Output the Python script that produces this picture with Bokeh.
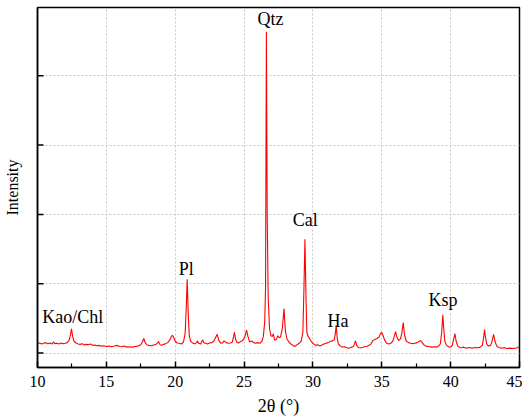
from bokeh.plotting import figure
from bokeh.models import FixedTicker, Label, Range1d
from bokeh.embed import file_html
from bokeh.resources import INLINE

# ---- data ----
two_theta = [
    10.00, 10.15, 10.30, 10.45, 10.60, 10.75, 10.90, 11.05, 11.15, 11.25, 11.40, 11.55, 11.70, 11.85,
    12.00, 12.15, 12.30, 12.40, 12.47, 12.55, 12.65, 12.80, 12.95, 13.10, 13.25, 13.40, 13.55, 13.70,
    13.85, 14.00, 14.15, 14.30, 14.45, 14.60, 14.80, 15.00, 15.20, 15.40, 15.60, 15.80, 15.95, 16.10,
    16.30, 16.50, 16.70, 16.90, 17.10, 17.30, 17.50, 17.62, 17.72, 17.82, 17.95, 18.10, 18.30, 18.50,
    18.65, 18.78, 18.88, 19.00, 19.15, 19.30, 19.45, 19.60, 19.72, 19.80, 19.90, 20.00, 20.15, 20.30,
    20.45, 20.60, 20.72, 20.80, 20.87, 20.94, 21.02, 21.12, 21.25, 21.40, 21.55, 21.62, 21.70, 21.85,
    21.98, 22.08, 22.20, 22.35, 22.50, 22.65, 22.80, 22.95, 23.05, 23.15, 23.30, 23.45, 23.55, 23.70,
    23.85, 24.00, 24.15, 24.24, 24.30, 24.36, 24.45, 24.60, 24.75, 24.90, 25.05, 25.18, 25.28, 25.40,
    25.55, 25.70, 25.85, 26.00, 26.15, 26.30, 26.40, 26.50, 26.56, 26.62, 26.68, 26.75, 26.85, 26.95,
    27.05, 27.12, 27.22, 27.35, 27.45, 27.55, 27.65, 27.78, 27.90, 28.00, 28.10, 28.25, 28.40, 28.55,
    28.70, 28.85, 29.00, 29.15, 29.27, 29.35, 29.42, 29.50, 29.56, 29.65, 29.75, 29.90, 30.05, 30.20,
    30.35, 30.50, 30.65, 30.80, 30.95, 31.10, 31.25, 31.40, 31.55, 31.62, 31.69, 31.76, 31.85, 32.00,
    32.15, 32.30, 32.45, 32.60, 32.75, 32.90, 33.00, 33.09, 33.18, 33.30, 33.45, 33.60, 33.75, 33.90,
    34.05, 34.20, 34.35, 34.50, 34.65, 34.80, 34.90, 34.98, 35.08, 35.20, 35.35, 35.50, 35.65, 35.80,
    35.92, 36.00, 36.10, 36.22, 36.35, 36.45, 36.56, 36.65, 36.78, 36.95, 37.10, 37.25, 37.40, 37.55,
    37.70, 37.81, 37.90, 38.05, 38.20, 38.35, 38.50, 38.65, 38.80, 38.95, 39.10, 39.25, 39.35, 39.43,
    39.50, 39.58, 39.70, 39.85, 40.00, 40.12, 40.22, 40.31, 40.40, 40.52, 40.65, 40.80, 40.95, 41.10,
    41.25, 41.40, 41.55, 41.70, 41.85, 42.00, 42.15, 42.30, 42.40, 42.46, 42.53, 42.62, 42.75, 42.90,
    43.00, 43.12, 43.22, 43.35, 43.50, 43.70, 43.90, 44.10, 44.30, 44.50, 44.70, 44.85, 45.00,
]
intensity = [
    135, 145, 130, 140, 150, 135, 145, 130, 160, 135, 140, 130, 145, 135,
    140, 150, 185, 270, 350, 240, 170, 145, 130, 125, 135, 115, 125, 120,
    130, 110, 115, 105, 110, 100, 105, 95, 100, 90, 100, 110, 95, 90,
    100, 85, 90, 85, 95, 100, 120, 160, 210, 150, 115, 110, 105, 120,
    130, 165, 125, 110, 125, 135, 150, 185, 240, 255, 220, 170, 145, 140,
    130, 160, 280, 650, 1063, 600, 250, 170, 145, 135, 150, 175, 140, 130,
    190, 150, 140, 130, 145, 150, 170, 230, 270, 190, 140, 150, 175, 150,
    140, 145, 160, 240, 300, 220, 160, 145, 165, 180, 230, 330, 240, 160,
    175, 150, 140, 150, 140, 170, 240, 450, 950, 4636, 2000, 800, 350, 250,
    240, 275, 185, 200, 250, 220, 230, 360, 640, 320, 210, 160, 130, 110,
    95, 120, 140, 170, 300, 950, 1640, 760, 300, 240, 210, 160, 130, 110,
    120, 100, 115, 130, 140, 150, 165, 175, 190, 270, 400, 220, 130, 100,
    85, 90, 75, 70, 80, 90, 120, 175, 110, 80, 75, 80, 90, 95,
    110, 125, 180, 195, 210, 230, 280, 300, 260, 190, 140, 130, 140, 170,
    250, 310, 230, 180, 200, 280, 440, 260, 170, 150, 140, 135, 140, 150,
    165, 180, 160, 120, 100, 95, 90, 85, 90, 85, 95, 130, 300, 550,
    350, 170, 110, 90, 85, 110, 200, 280, 170, 100, 80, 75, 85, 70,
    75, 80, 70, 75, 80, 75, 85, 110, 230, 340, 230, 130, 100, 110,
    160, 270, 170, 100, 80, 70, 75, 65, 70, 65, 70, 75, 90,
]

x_ticks = [10, 15, 20, 25, 30, 35, 40, 45]
x_minor = [12.5, 17.5, 22.5, 27.5, 32.5, 37.5, 42.5]
y_ticks = [0, 1000, 2000, 3000, 4000]
x_start, x_end = 10, 45

peak_names = ["Kao/Chl", "Pl", "Qtz", "Cal", "Ha", "Ksp"]
peak_pos = [12.56, 20.81, 26.92, 29.45, 31.82, 39.45]
label_heights = [515, 1213, 4825, 1915, 467, 760]

FONT = "Liberation Serif"

p = figure(
    output_backend="svg", toolbar_location=None,
    frame_width=482, frame_height=360,
    min_border_left=37, min_border_right=3, min_border_top=7, min_border_bottom=49,
    x_range=Range1d(x_start, x_end), y_range=Range1d(-209, 4986),
    background_fill_color="white", border_fill_color="white",
)

# grids
p.xgrid.ticker = FixedTicker(ticks=x_ticks)
p.ygrid.ticker = FixedTicker(ticks=y_ticks)
for g in (p.xgrid[0], p.ygrid[0]):
    g.grid_line_color = "#c8c8c8"
    g.grid_line_dash = "2 2"
    g.grid_line_width = 1
    g.grid_line_alpha = 1

p.line(two_theta, intensity, line_color="#ff0000", line_width=1.1)

# inward y tick marks (the y axis carries no numbers)
p.ray(x=[x_start] * len(y_ticks), y=y_ticks, length=6, length_units="screen",
      angle=0, line_color="black", line_width=1.5)

# outline
p.outline_line_color = "black"
p.outline_line_width = 1.5
p.outline_line_alpha = 1

# x axis
xa = p.xaxis[0]
xa.ticker = FixedTicker(ticks=x_ticks, minor_ticks=x_minor)
xa.axis_label = "2θ (°)"
xa.axis_label_text_font = FONT
xa.axis_label_text_font_style = "normal"
xa.axis_label_text_font_size = "18px"
xa.axis_label_text_color = "black"
xa.axis_label_standoff = 6
xa.major_label_text_font = FONT
xa.major_label_text_font_size = "16px"
xa.major_label_text_color = "black"
xa.major_label_standoff = 8
xa.major_tick_in = 6
xa.major_tick_out = 0
xa.minor_tick_in = 4
xa.minor_tick_out = 0
xa.axis_line_width = 1.5
xa.major_tick_line_width = 1.5
xa.minor_tick_line_width = 1.2
xa.axis_line_color = "black"

# y axis: line + title only
ya = p.yaxis[0]
ya.ticker = FixedTicker(ticks=[], minor_ticks=[])
ya.axis_label = "Intensity"
ya.axis_label_text_font = FONT
ya.axis_label_text_font_style = "normal"
ya.axis_label_text_font_size = "16px"
ya.axis_label_text_color = "black"
ya.axis_label_standoff = 17
ya.major_label_standoff = 0
ya.major_tick_in = 0
ya.major_tick_out = 0
ya.minor_tick_in = 0
ya.minor_tick_out = 0
ya.axis_line_width = 1.5
ya.axis_line_color = "black"

# peak labels
for name, xp, yh in zip(peak_names, peak_pos, label_heights):
    p.add_layout(Label(x=xp, y=yh, text=name, text_font=FONT, text_font_size="18px",
                       text_color="black", text_align="center", text_baseline="alphabetic"))

open("out.html", "w").write(file_html(p, INLINE))
